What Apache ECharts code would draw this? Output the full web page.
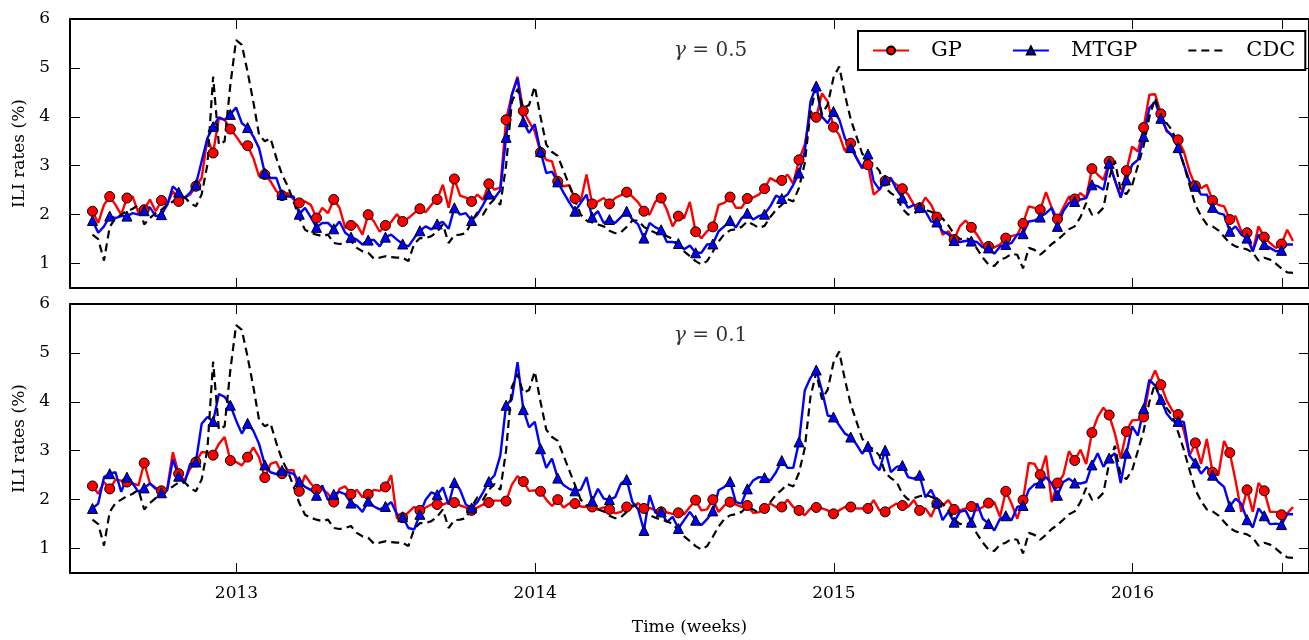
<!DOCTYPE html>
<html>
<head>
<meta charset="utf-8">
<script src="https://cdn.jsdelivr.net/npm/echarts@6/dist/echarts.min.js"></script>
<style>
  html, body { margin: 0; padding: 0; background: #fff; }
  #chart { width: 1309px; height: 640px; }
</style>
</head>
<body>
<div id="chart"></div>
<script>
// weekly ILI estimates, mid 2012 .. mid 2016
var START = 2012.518;   // first week, decimal year
var WEEK = 0.01923;     // one week in years

var cdc = [
  1.59, 1.50, 1.06, 1.75, 1.93, 2.00, 2.07, 2.12, 2.20, 1.80,
  1.93, 2.03, 2.10, 2.20, 2.27, 2.35, 2.36, 2.24, 2.17, 2.41,
  3.02, 4.82, 3.43, 3.50, 4.65, 5.57, 5.47, 4.92, 4.31, 3.63,
  3.50, 3.56, 3.16, 2.82, 2.58, 2.27, 1.93, 1.69, 1.63, 1.59,
  1.56, 1.59, 1.42, 1.40, 1.42, 1.46, 1.32, 1.25, 1.22, 1.10,
  1.12, 1.15, 1.13, 1.12, 1.12, 1.05, 1.40, 1.52, 1.52, 1.56,
  1.65, 1.80, 1.42, 1.58, 1.59, 1.62, 1.85, 2.05, 2.00, 2.20,
  2.32, 2.20, 3.00, 4.30, 4.57, 4.18, 4.24, 4.62, 4.00, 3.43,
  3.28, 3.20, 2.90, 2.60, 2.30, 2.00, 1.88, 1.84, 1.80, 1.76,
  1.67, 1.62, 1.64, 1.75, 1.88, 1.88, 1.75, 1.68, 1.63, 1.59,
  1.56, 1.50, 1.37, 1.25, 1.15, 1.05, 0.98, 1.05, 1.24, 1.45,
  1.60, 1.68, 1.70, 1.75, 1.86, 1.80, 1.73, 1.77, 1.95, 2.10,
  2.20, 2.32, 2.27, 2.55, 3.05, 4.10, 4.60, 4.05, 4.25, 4.80,
  5.03, 4.45, 3.95, 3.60, 3.25, 3.10, 3.03, 2.90, 2.55, 2.44,
  2.36, 2.12, 2.00, 2.03, 2.07, 2.10, 2.06, 2.00, 1.92, 1.78,
  1.60, 1.50, 1.52, 1.48, 1.30, 1.12, 0.98, 0.95, 1.08, 1.12,
  1.20, 1.18, 0.90, 1.32, 1.28, 1.18, 1.28, 1.40, 1.48, 1.59,
  1.70, 1.76, 1.95, 2.24, 2.00, 2.02, 2.14, 2.75, 3.10, 2.50,
  2.42, 2.60, 3.00, 3.40, 4.00, 4.38, 4.00, 3.87, 3.72, 3.38,
  3.02, 2.60, 2.20, 1.97, 1.80, 1.76, 1.68, 1.55, 1.42, 1.35,
  1.32, 1.29, 1.22, 1.06, 1.12, 1.08, 1.00, 0.90, 0.82, 0.81
];

// gamma = 0.5
var gpTop = [
  2.07, 1.83, 2.20, 2.37, 2.20, 2.00, 2.34, 2.37, 2.03, 2.10,
  2.31, 2.07, 2.29, 2.20, 2.48, 2.27, 2.34, 2.41, 2.58, 2.75,
  3.56, 3.26, 3.97, 3.94, 3.75, 3.60, 3.43, 3.41, 3.16, 2.78,
  2.82, 2.68, 2.48, 2.39, 2.44, 2.31, 2.24, 2.27, 2.20, 1.93,
  2.14, 2.03, 2.31, 2.14, 1.73, 1.78, 1.80, 1.59, 2.00, 1.86,
  1.65, 1.78, 1.85, 2.01, 1.86, 1.93, 2.03, 2.12, 2.05, 2.20,
  2.31, 2.61, 2.14, 2.73, 2.39, 2.35, 2.27, 2.41, 2.30, 2.63,
  2.51, 2.55, 3.94, 4.45, 4.82, 4.12, 3.90, 3.70, 3.27, 3.12,
  3.09, 2.68, 2.58, 2.60, 2.33, 2.27, 2.82, 2.22, 2.27, 2.34,
  2.22, 2.34, 2.40, 2.46, 2.37, 2.25, 2.07, 2.00, 2.27, 2.34,
  2.10, 1.76, 1.97, 1.93, 2.26, 1.65, 1.52, 1.66, 1.75, 2.20,
  2.24, 2.36, 2.14, 2.14, 2.33, 2.35, 2.41, 2.53, 2.75, 2.68,
  2.70, 2.82, 2.63, 3.12, 3.43, 4.11, 3.99, 4.48, 4.31, 3.79,
  3.63, 3.30, 3.46, 3.16, 2.95, 3.02, 2.41, 2.51, 2.69, 2.71,
  2.61, 2.53, 2.41, 2.20, 2.14, 2.35, 2.20, 1.95, 1.59, 1.66,
  1.49, 1.76, 1.88, 1.74, 1.59, 1.39, 1.35, 1.33, 1.39, 1.52,
  1.56, 1.59, 1.82, 2.17, 2.14, 2.10, 2.46, 2.14, 1.91, 2.14,
  2.37, 2.32, 2.44, 2.34, 2.94, 2.82, 2.71, 3.09, 2.70, 2.37,
  2.90, 3.39, 3.29, 3.78, 4.45, 4.46, 4.06, 3.70, 3.63, 3.53,
  3.29, 2.88, 2.59, 2.54, 2.61, 2.29, 2.20, 2.17, 1.90, 1.97,
  1.66, 1.63, 1.25, 1.76, 1.54, 1.42, 1.32, 1.40, 1.69, 1.46
];

var mtgpTop = [
  1.88, 1.63, 1.76, 1.97, 1.93, 1.97, 1.97, 2.03, 2.00, 2.08,
  2.15, 1.97, 2.00, 2.20, 2.58, 2.46, 2.34, 2.45, 2.61, 3.09,
  3.56, 3.80, 3.99, 3.94, 4.05, 4.19, 3.87, 3.78, 3.60, 3.36,
  2.85, 2.75, 2.75, 2.41, 2.37, 2.37, 2.01, 2.14, 1.95, 1.74,
  1.83, 1.83, 1.71, 1.86, 1.63, 1.54, 1.49, 1.39, 1.48, 1.48,
  1.35, 1.54, 1.59, 1.49, 1.40, 1.35, 1.52, 1.67, 1.76, 1.70,
  1.81, 1.85, 1.71, 2.14, 2.00, 2.03, 1.88, 2.00, 2.20, 2.42,
  2.34, 2.50, 3.58, 4.45, 4.79, 3.90, 3.67, 3.85, 3.29, 2.85,
  2.88, 2.67, 2.45, 2.25, 2.07, 2.24, 2.41, 1.95, 2.07, 1.83,
  1.90, 1.83, 1.95, 2.07, 1.90, 1.80, 1.52, 1.83, 1.74, 1.69,
  1.44, 1.44, 1.41, 1.29, 1.37, 1.22, 1.22, 1.39, 1.40, 1.66,
  1.76, 1.88, 1.74, 1.93, 2.03, 1.90, 1.97, 2.01, 2.17, 2.39,
  2.33, 2.41, 2.61, 2.85, 3.29, 4.31, 4.63, 4.00, 3.87, 4.11,
  3.95, 3.56, 3.37, 3.16, 2.95, 3.24, 2.68, 2.51, 2.71, 2.75,
  2.51, 2.34, 2.14, 2.20, 2.15, 2.07, 1.86, 1.85, 1.66, 1.60,
  1.47, 1.44, 1.46, 1.46, 1.44, 1.33, 1.32, 1.20, 1.35, 1.39,
  1.42, 1.59, 1.61, 1.86, 1.88, 1.95, 2.03, 2.14, 1.76, 2.07,
  2.24, 2.27, 2.31, 2.34, 2.61, 2.58, 2.51, 3.05, 2.70, 2.35,
  2.71, 3.02, 3.12, 3.60, 4.18, 4.31, 3.97, 3.73, 3.60, 3.37,
  3.02, 2.68, 2.58, 2.41, 2.41, 2.15, 2.03, 2.00, 1.66, 1.76,
  1.59, 1.52, 1.25, 1.59, 1.39, 1.32, 1.25, 1.27, 1.39, 1.39
];

// gamma = 0.1
var gpBottom = [
  2.28, 2.12, 2.36, 2.22, 2.41, 2.39, 2.36, 2.33, 2.29, 2.75,
  2.33, 2.24, 2.18, 2.22, 2.97, 2.53, 2.39, 2.63, 2.77, 2.97,
  2.97, 2.91, 3.14, 3.28, 2.80, 2.77, 2.70, 2.87, 3.07, 2.87,
  2.45, 2.73, 2.77, 2.53, 2.60, 2.60, 2.17, 2.50, 2.33, 2.21,
  2.22, 2.12, 1.95, 2.22, 2.27, 2.11, 2.20, 2.05, 2.11, 2.20,
  2.18, 2.26, 2.50, 1.62, 1.63, 1.74, 1.85, 1.78, 1.84, 1.90,
  1.90, 1.90, 1.95, 1.94, 1.88, 1.84, 1.78, 1.84, 1.90, 1.94,
  1.98, 1.98, 1.97, 2.30, 2.48, 2.37, 2.18, 2.19, 2.17, 2.00,
  1.87, 2.00, 1.84, 1.92, 1.92, 1.86, 1.85, 1.85, 1.80, 1.84,
  1.80, 1.72, 1.75, 1.85, 1.85, 1.93, 1.82, 1.83, 1.78, 1.75,
  1.74, 1.71, 1.73, 1.70, 1.85, 1.99, 1.78, 1.80, 2.00, 1.75,
  1.88, 1.95, 1.90, 1.85, 1.88, 1.73, 1.74, 1.82, 1.92, 1.85,
  1.85, 2.00, 1.85, 1.78, 1.68, 1.82, 1.84, 1.82, 1.78, 1.71,
  1.78, 1.85, 1.85, 1.82, 1.82, 1.82, 1.99, 1.78, 1.75, 1.85,
  1.92, 1.88, 1.85, 1.99, 1.78, 1.82, 1.65, 1.92, 1.88, 1.99,
  1.80, 1.78, 1.82, 1.86, 1.78, 1.85, 1.93, 1.95, 1.65, 2.17,
  1.92, 1.61, 1.99, 2.75, 2.73, 2.51, 2.90, 1.95, 2.34, 2.50,
  2.99, 2.80, 3.02, 2.73, 3.37, 3.69, 3.88, 3.73, 3.35, 2.84,
  3.39, 3.62, 3.63, 3.69, 4.37, 4.64, 4.35, 4.03, 3.82, 3.74,
  3.41, 2.90, 3.16, 2.73, 3.24, 2.56, 2.50, 3.20, 2.96, 2.39,
  1.75, 2.20, 1.75, 2.34, 2.18, 1.75, 1.75, 1.69, 1.72, 1.85
];

var mtgpBottom = [
  1.82, 1.92, 2.46, 2.53, 2.56, 2.16, 2.46, 2.33, 2.16, 2.24,
  2.33, 2.22, 2.14, 2.19, 2.82, 2.48, 2.33, 2.73, 2.77, 3.55,
  3.69, 3.60, 4.16, 4.10, 3.93, 3.62, 3.35, 3.56, 3.41, 3.14,
  2.71, 2.56, 2.52, 2.60, 2.56, 2.53, 2.37, 2.26, 2.20, 2.09,
  2.29, 1.99, 2.11, 2.16, 2.11, 1.93, 1.88, 1.75, 1.97, 1.86,
  1.80, 1.86, 1.95, 1.70, 1.65, 1.42, 1.39, 1.70, 2.00, 2.15,
  2.10, 2.25, 1.90, 2.35, 2.20, 1.90, 1.83, 1.95, 2.15, 2.37,
  2.50, 2.90, 3.93, 4.05, 4.81, 3.84, 3.48, 3.59, 3.04, 2.65,
  2.84, 2.44, 2.30, 2.22, 2.18, 2.20, 2.46, 1.97, 2.22, 2.02,
  2.00, 2.05, 2.33, 2.41, 1.95, 1.80, 1.37, 2.09, 1.73, 1.75,
  1.54, 1.65, 1.41, 1.58, 1.75, 1.58, 1.48, 1.60, 1.77, 2.19,
  2.26, 2.37, 1.95, 1.92, 2.22, 2.39, 2.46, 2.45, 2.39, 2.56,
  2.80, 2.65, 2.65, 3.18, 4.23, 4.49, 4.65, 4.23, 3.72, 3.69,
  3.52, 3.35, 3.28, 3.13, 2.94, 3.09, 2.73, 2.60, 3.01, 2.56,
  2.67, 2.70, 2.46, 2.43, 2.50, 2.05, 2.20, 1.95, 1.58, 1.75,
  1.54, 1.75, 1.78, 1.54, 1.92, 1.61, 1.51, 1.37, 1.61, 1.67,
  1.58, 1.85, 1.88, 2.20, 2.31, 2.34, 2.46, 2.33, 2.09, 2.36,
  2.43, 2.34, 2.33, 2.36, 2.71, 2.95, 2.67, 2.85, 2.95, 2.34,
  2.95, 3.50, 3.31, 3.86, 4.45, 4.33, 4.05, 3.76, 3.62, 3.60,
  3.59, 2.90, 2.75, 2.53, 2.67, 2.50, 2.36, 2.26, 1.86, 2.02,
  1.92, 1.59, 1.43, 1.82, 1.67, 1.50, 1.51, 1.49, 1.70, 1.70
];

var yearTicks = [2013, 2014, 2015, 2016];
var xTicks = [2013, 2014, 2015, 2016, 2016.5];
var yTicks = [1, 2, 3, 4, 5, 6];

var weeks = cdc.map(function (v, i) { return +(START + i * WEEK).toFixed(4); });

var FONT = 'DejaVu Serif';
var XMIN = 2012.4427, XMAX = 2016.5907;

// marker on every third week, plain line in between
function withMarkers(vals) {
  return vals.map(function (v, i) {
    return i % 3 === 0 ? [weeks[i], v] : { value: [weeks[i], v], symbol: 'none' };
  });
}
function plain(vals) {
  return vals.map(function (v, i) { return [weeks[i], v]; });
}

function xAx(grid, pos, labels) {
  return {
    type: 'value', gridIndex: grid, position: pos, min: XMIN, max: XMAX,
    axisLine: { show: true, onZero: false, lineStyle: { color: '#000', width: 2 } },
    axisTick: { show: true, inside: true, length: 10, customValues: xTicks, lineStyle: { color: '#000', width: 1 } },
    axisLabel: { show: labels, customValues: yearTicks, margin: 12, color: '#000', fontFamily: FONT, fontSize: 17,
      formatter: function (v) { return String(v); } },
    splitLine: { show: false },
    name: labels ? 'Time (weeks)' : '', nameLocation: 'middle', nameGap: 46,
    nameTextStyle: { color: '#000', fontFamily: FONT, fontSize: 17 }
  };
}
function yAx(grid, pos, labels) {
  return {
    type: 'value', gridIndex: grid, position: pos, min: 0.5, max: 6,
    axisLine: { show: true, onZero: false, lineStyle: { color: '#000', width: 2 } },
    axisTick: { show: true, inside: true, length: 10, customValues: yTicks, lineStyle: { color: '#000', width: 1 } },
    axisLabel: { show: labels, customValues: yTicks, margin: 20, color: '#000', fontFamily: FONT, fontSize: 17 },
    splitLine: { show: false },
    name: labels ? 'ILI rates (%)' : '', nameLocation: 'middle', nameGap: 40,
    nameTextStyle: { color: '#000', fontFamily: FONT, fontSize: 17 }
  };
}

function gpSeries(vals, grid) {
  return {
    name: 'GP', type: 'line', xAxisIndex: grid * 2, yAxisIndex: grid * 2,
    data: withMarkers(vals), symbol: 'circle', symbolSize: 10, showAllSymbol: true,
    lineStyle: { color: '#ff0000', width: 2.4 },
    itemStyle: { color: '#ff0000', borderColor: '#000', borderWidth: 1 }
  };
}
function mtgpSeries(vals, grid) {
  return {
    name: 'MTGP', type: 'line', xAxisIndex: grid * 2, yAxisIndex: grid * 2,
    data: withMarkers(vals), symbol: 'triangle', symbolSize: 10, showAllSymbol: true,
    lineStyle: { color: '#0000ff', width: 2.4 },
    itemStyle: { color: '#0000ff', borderColor: '#000', borderWidth: 1 }
  };
}
function cdcSeries(grid) {
  return {
    name: 'CDC', type: 'line', xAxisIndex: grid * 2, yAxisIndex: grid * 2,
    data: plain(cdc), symbol: 'none',
    lineStyle: { color: '#000', width: 2.2, type: [8, 5] },
    itemStyle: { color: '#000' }
  };
}

var chart = echarts.init(document.getElementById('chart'));

var option = {
  backgroundColor: '#ffffff',
  animation: false,
  title: [
    { text: '{g|γ} = 0.5', left: 669, top: 36,
      textStyle: { color: '#333', fontFamily: FONT, fontSize: 20, fontWeight: 'normal',
        rich: { g: { fontStyle: 'italic', fontFamily: FONT, fontSize: 20, color: '#333' } } } },
    { text: '{g|γ} = 0.1', left: 669, top: 321,
      textStyle: { color: '#333', fontFamily: FONT, fontSize: 20, fontWeight: 'normal',
        rich: { g: { fontStyle: 'italic', fontFamily: FONT, fontSize: 20, color: '#333' } } } }
  ],
  legend: {
    data: ['GP', 'MTGP', { name: 'CDC', itemStyle: { color: 'rgba(0,0,0,0)', borderWidth: 0, opacity: 0 } }],
    left: 858, top: 31,
    padding: [9, 10, 9, 14],
    itemGap: 50, itemWidth: 36, itemHeight: 10,
    borderColor: '#000', borderWidth: 2, borderRadius: 0,
    backgroundColor: '#fff',
    textStyle: { color: '#000', fontFamily: FONT, fontSize: 21, padding: [0, 0, 0, 17] }
  },
  grid: [
    { left: 70, right: -4, top: 19, height: 269 },
    { left: 70, right: -4, top: 304, height: 269 }
  ],
  xAxis: [xAx(0, 'bottom', false), xAx(0, 'top', false), xAx(1, 'bottom', true), xAx(1, 'top', false)],
  yAxis: [yAx(0, 'left', true), yAx(0, 'right', false), yAx(1, 'left', true), yAx(1, 'right', false)],
  series: [
    gpSeries(gpTop, 0), mtgpSeries(mtgpTop, 0), cdcSeries(0),
    gpSeries(gpBottom, 1), mtgpSeries(mtgpBottom, 1), cdcSeries(1)
  ]
};

chart.setOption(option);
</script>
</body>
</html>
